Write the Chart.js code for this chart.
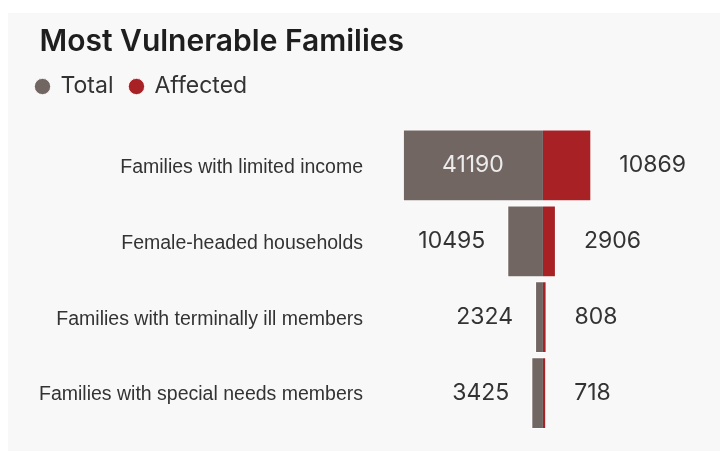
<!DOCTYPE html>
<html>
<head>
<meta charset="utf-8">
<script src="https://cdn.jsdelivr.net/npm/chart.js@4.4.1/dist/chart.umd.min.js"></script>
<style>
    body { margin: 0; background: #ffffff; }
    #panel { position: absolute; left: 8px; top: 13px; width: 712px; height: 438px; background: #f8f8f8; }
</style>
</head>
<body>
<div id="panel"><canvas id="vulnerableChart" width="712" height="438"></canvas></div>
<script>
const categories = [
    'Families with limited income',
    'Female-headed households',
    'Families with terminally ill members',
    'Families with special needs members'
];
const totalValues = [41190, 10495, 2324, 3425];
const affectedValues = [10869, 2906, 808, 718];

const TOTAL_COLOR = '#726663';
const AFFECTED_COLOR = '#a82125';
const NUMBER_FONT = '400 23px Inter, "Noto Sans", sans-serif';

// moves the title a bit to the right of the legend start
const titleShift = {
    id: 'titleShift',
    afterLayout(chart) {
        chart.titleBlock.left += 20;
        chart.titleBlock.right += 20;
    }
};

const valueLabels = {
    id: 'valueLabels',
    afterDatasetsDraw(chart) {
        const ctx = chart.ctx;
        ctx.save();
        ctx.font = NUMBER_FONT;
        ctx.textBaseline = 'middle';
        chart.data.datasets.forEach((ds, di) => {
            const meta = chart.getDatasetMeta(di);
            meta.data.forEach((bar, i) => {
                const text = String(ds.data[i]);
                const w = ctx.measureText(text).width;
                const left = Math.min(bar.x, bar.base);
                const right = Math.max(bar.x, bar.base);
                if (di === 0) {
                    if (right - left > w + 30) {
                        ctx.fillStyle = '#ececec';
                        ctx.textAlign = 'center';
                        ctx.fillText(text, (left + right) / 2, bar.y);
                    } else {
                        ctx.fillStyle = '#333333';
                        ctx.textAlign = 'right';
                        ctx.fillText(text, left - 22, bar.y);
                    }
                } else {
                    ctx.fillStyle = '#333333';
                    ctx.textAlign = 'left';
                    ctx.fillText(text, right + 28, bar.y);
                }
            });
        });
        ctx.restore();
    }
};

const ctx = document.getElementById('vulnerableChart').getContext('2d');
new Chart(ctx, {
    type: 'bar',
    data: {
        labels: categories,
        datasets: [
            {
                label: 'Total',
                data: totalValues,
                xAxisID: 'xTotal',
                backgroundColor: TOTAL_COLOR,
                borderColor: 'rgba(255,255,255,0.85)',
                borderWidth: 1,
                grouped: false,
                categoryPercentage: 1,
                barPercentage: 0.947
            },
            {
                label: 'Affected',
                data: affectedValues,
                xAxisID: 'xAffected',
                backgroundColor: AFFECTED_COLOR,
                borderColor: 'rgba(255,255,255,0.85)',
                borderWidth: 1,
                grouped: false,
                categoryPercentage: 1,
                barPercentage: 0.947
            }
        ]
    },
    options: {
        indexAxis: 'y',
        responsive: false,
        animation: false,
        layout: { padding: { left: 11.5, right: 8, top: 0, bottom: 20 } },
        plugins: {
            title: {
                display: true,
                text: 'Most Vulnerable Families',
                align: 'start',
                color: '#1e1e1e',
                font: { family: 'Inter, "Noto Sans", sans-serif', size: 30, weight: '600', lineHeight: 1.1 },
                padding: { top: 12.5, bottom: 0 }
            },
            legend: {
                position: 'top',
                align: 'start',
                labels: {
                    usePointStyle: true,
                    pointStyle: 'circle',
                    boxWidth: 13,
                    boxHeight: 11.5,
                    padding: 16.5,
                    color: '#333333',
                    font: { family: 'Inter, "Noto Sans", sans-serif', size: 23 }
                }
            },
            tooltip: { enabled: false }
        },
        scales: {
            y: {
                grid: { display: false, drawTicks: false },
                border: { display: false },
                ticks: {
                    color: '#333333',
                    padding: 7,
                    labelOffset: 2,
                    font: { family: '"Liberation Sans", Arial, sans-serif', size: 19.5 }
                },
                afterFit: s => { s.width = 350.5; }
            },
            xTotal: {
                position: 'bottom',
                reverse: true,
                min: -49700,
                max: 50860,
                display: false
            },
            xAffected: {
                position: 'top',
                min: -38920,
                max: 38020,
                grid: { display: false, drawTicks: false },
                border: { display: false },
                ticks: { display: false },
                afterFit: s => { s.height = 19.5; }
            }
        }
    },
    plugins: [titleShift, valueLabels]
});
</script>
</body>
</html>
